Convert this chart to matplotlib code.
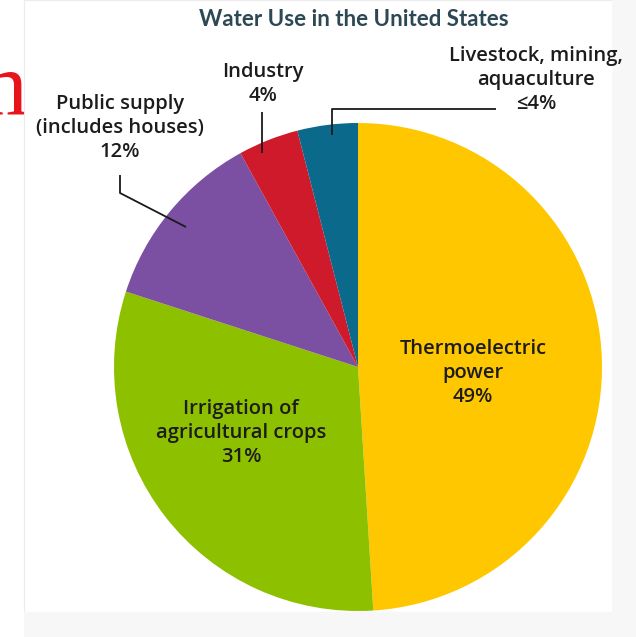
import matplotlib.pyplot as plt
from matplotlib.patches import Rectangle

W, H = 636, 637

categories = ["Thermoelectric\npower", "Irrigation of\nagricultural crops", "Public supply\n(includes houses)",
              "Industry", "Livestock, mining,\naquaculture"]
shares = [49, 31, 12, 4, 4]
share_labels = ["49%", "31%", "12%", "4%", "≤4%"]
colors = ["#FFC700", "#8DC100", "#7B4FA2", "#CE1A2B", "#0B6A8C"]

FONT = ["Open Sans", "DejaVu Sans"]
TEXT_COLOR = "#1c1c1c"

# pie layout in pixel units (y measured from top)
cx, cy, radius = 358, 367, 244


def Y(y):
    return H - y


fig = plt.figure(figsize=(W / 100, H / 100), dpi=100)
ax = fig.add_axes([0, 0, 1, 1])
ax.set_xlim(0, W)
ax.set_ylim(0, H)
ax.set_aspect("equal")
ax.axis("off")

# stray red mark at the left edge, partly hidden under the panel
ax.text(27, Y(115), "m", color="#e8141c", fontsize=66, family="Liberation Serif",
        ha="right", va="baseline", zorder=0)

# light gray page around the white panel
ax.add_patch(Rectangle((24, Y(612)), W - 24, 612, facecolor="white", edgecolor="#ececec", lw=0.8, zorder=1))
ax.add_patch(Rectangle((24, 0), W - 24, Y(612), facecolor="#f7f7f7", edgecolor="none", zorder=1))
ax.add_patch(Rectangle((612, 0), W - 612, H, facecolor="#f7f7f7", edgecolor="none", zorder=1))

wedges, _ = ax.pie(shares, colors=colors, startangle=90, counterclock=False,
                   center=(cx, Y(cy)), radius=radius, wedgeprops=dict(linewidth=0))
for w in wedges:
    w.set_zorder(2)

ax.set_xlim(0, W)
ax.set_ylim(0, H)

ax.text(354, Y(19), "Water Use in the United States", ha="center", va="center",
        fontsize=16, fontweight="bold", color="#2c4854", family=["Lato", "DejaVu Sans"], zorder=5)

label_style = dict(ha="center", va="center", fontsize=14.5, fontweight="semibold",
                   color=TEXT_COLOR, family=FONT, linespacing=1.25, zorder=5)

# text positions (center of text block)
label_pos = [(473, 373), (241, 433), (120, 128), (263, 84), (536, 80)]
for name, pct, (x, y) in zip(categories, share_labels, label_pos):
    ax.text(x, Y(y), f"{name}\n{pct}", **label_style)

# leader lines
line_kw = dict(color="#1a1a1a", lw=1.3, zorder=4, solid_capstyle="butt")
ax.plot([120, 120, 186], [Y(175), Y(193), Y(227)], **line_kw)
ax.plot([262, 262], [Y(112), Y(153)], **line_kw)
ax.plot([332, 332, 496], [Y(135), Y(109), Y(109)], **line_kw)

fig.savefig("out.png", dpi=100)
